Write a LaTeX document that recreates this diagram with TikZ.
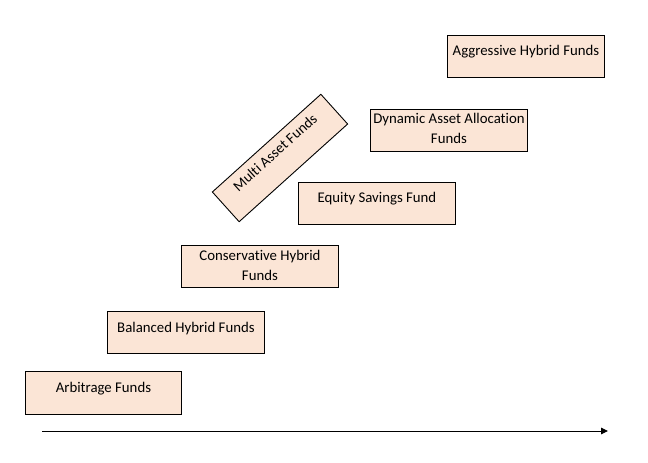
\documentclass[tikz,border=0pt]{standalone}
\usepackage{fontspec}
\setmainfont{Carlito}[Ligatures=NoCommon]
\usetikzlibrary{arrows.meta}
\definecolor{boxfill}{RGB}{251,229,214}
\newcommand\boxtxt[4]{\parbox[c][#2pt][t]{#1pt}{\centering\fontsize{14.8}{19.5}\selectfont\rule{0pt}{#3pt}#4}}
\tikzset{
  fundbox/.style={draw=black, line width=0.9pt, fill=boxfill, inner sep=0pt, anchor=north west},
  axis/.style={line width=0.9pt, -{Triangle[length=7pt,width=6.5pt]}}
}
\begin{document}
\begin{tikzpicture}[x=1pt,y=-1pt]
\useasboundingbox (0,0) rectangle (648,463);
\node[fundbox] (arb) at (25,371) {\boxtxt{156}{43}{21}{Arbitrage Funds}};
\node[fundbox] (bal) at (107,311) {\boxtxt{157}{42}{21}{Balanced Hybrid Funds}};
\node[fundbox] (con) at (181,245) {\boxtxt{157}{42}{15.5}{Conservative Hybrid\\Funds}};
\node[fundbox] (eq) at (298,182) {\boxtxt{157}{42}{20.5}{Equity Savings Fund}};
\node[fundbox] (dyn) at (370,109) {\boxtxt{157}{42}{14.5}{Dynamic Asset Allocation\\Funds}};
\node[fundbox] (agg) at (447,35) {\boxtxt{157}{42}{20}{Aggressive Hybrid Funds}};
\node[fundbox, anchor=center, rotate=42] (multi) at (280,158) {\boxtxt{146}{40}{17.5}{Multi Asset Funds}};
\coordinate (a0) at (42,431);
\coordinate (a1) at (608,431);
\draw[axis] (a0) -- (a1);
\end{tikzpicture}
\end{document}
